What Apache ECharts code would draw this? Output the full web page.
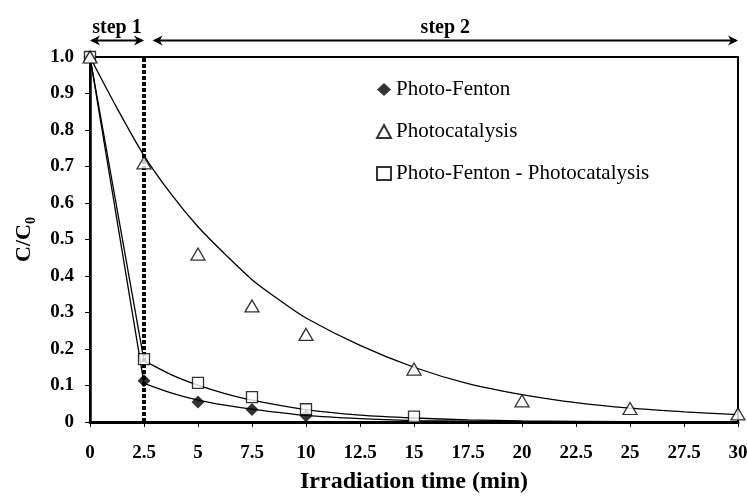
<!DOCTYPE html>
<html>
<head>
<meta charset="utf-8">
<script src="https://cdn.jsdelivr.net/npm/echarts@6/dist/echarts.min.js"></script>
<style>
html,body{margin:0;padding:0;background:#fff}
#main{width:747px;height:497px}
</style>
</head>
<body>
<div id="main"></div>
<script>
// measured points
var timePF = [0, 2.5, 5, 7.5, 10];
var valPF = [1.0, 0.113, 0.055, 0.034, 0.017];
var timePC = [0, 2.5, 5, 7.5, 10, 15, 20, 25, 30];
var valPC = [1.0, 0.71, 0.46, 0.318, 0.24, 0.145, 0.058, 0.037, 0.022];
var timePFPC = [0, 2.5, 5, 7.5, 10, 15];
var valPFPC = [1.0, 0.172, 0.107, 0.068, 0.035, 0.015];

// fitted curves
var fitTimeStep1 = [0, 2.5];
var fitPFStep1 = [1.0, 0.106];
var fitPFPCStep1 = [1.0, 0.168];
var fitTimeStep2 = [2.5, 3.75, 5, 6.25, 7.5, 10, 12.5, 15, 17.5, 20, 25, 30];
var fitPFStep2 = [0.106, 0.08, 0.06, 0.046, 0.035, 0.018, 0.009, 0.004, 0.002, 0.001, 0, 0];
var fitPFPCStep2 = [0.168, 0.13, 0.101, 0.078, 0.06, 0.034, 0.019, 0.011, 0.006, 0.003, 0.001, 0];
var fitTimePC = [0, 1.25, 2.5, 3.75, 5, 6.25, 7.5, 8.75, 10, 12.5, 15, 17.5, 20, 22.5, 25, 27.5, 30];
var fitPC = [1.0, 0.86, 0.73, 0.625, 0.535, 0.46, 0.39, 0.335, 0.285, 0.21, 0.15, 0.105, 0.075, 0.053, 0.038, 0.028, 0.02];

// step annotation (in minutes)
var stepSplit = 2.5;
var step1Range = [0, 2.5];
var step2Range = [2.9, 30];
var stepLabels = ['step 1', 'step 2'];

var names = ['Photo-Fenton', 'Photocatalysis', 'Photo-Fenton - Photocatalysis'];

function pairs(xs, ys){
    return xs.map(function(x, i){ return [x, ys[i]]; });
}

var serif = 'Liberation Serif';
var chart = echarts.init(document.getElementById('main'));

var fitStyle = {color:'#000', width:1.3};
function fitLine(data, smooth){
    return {
        type:'line', data:data, showSymbol:false, symbol:'none',
        smooth:smooth ? 0.3 : false,
        lineStyle:fitStyle, itemStyle:{color:'#000'}, z:2, silent:true
    };
}

var series = [
    fitLine(pairs(fitTimeStep1, fitPFStep1), false),
    fitLine(pairs(fitTimeStep1, fitPFPCStep1), false),
    fitLine(pairs(fitTimeStep2, fitPFStep2), true),
    fitLine(pairs(fitTimeStep2, fitPFPCStep2), true),
    fitLine(pairs(fitTimePC, fitPC), true),
    {
        type:'line', data:[], z:1, silent:true,
        markLine:{
            silent:true, symbol:['none','none'], label:{show:false},
            lineStyle:{color:'#000', width:4, type:[4,2]},
            data:[{xAxis:stepSplit}]
        }
    },
    {
        name:names[0], type:'scatter', symbol:'diamond', symbolSize:[13,13],
        data:pairs(timePF, valPF), itemStyle:{color:'#000'}, z:4
    },
    {
        name:names[2], type:'scatter', symbol:'rect', symbolSize:11,
        data:pairs(timePFPC, valPFPC),
        itemStyle:{color:'#fff', borderColor:'#000', borderWidth:1.3}, z:5
    },
    {
        name:names[1], type:'scatter', symbol:'triangle', symbolSize:[14,12],
        data:pairs(timePC, valPC),
        itemStyle:{color:'#fff', borderColor:'#000', borderWidth:1.3}, z:6
    }
];

chart.setOption({
    animation:false,
    backgroundColor:'#fff',
    grid:{
        left:90, right:9, top:57, bottom:75, containLabel:false, outerBoundsMode:'none',
        show:true, borderColor:'#000', borderWidth:2
    },
    legend:{
        orient:'vertical', left:371, top:74, itemWidth:14, itemHeight:13, itemGap:21,
        textStyle:{fontFamily:serif, fontSize:21, color:'#000'},
        data:names
    },
    xAxis:{
        type:'value', min:0, max:30, interval:2.5,
        name:'Irradiation time (min)', nameLocation:'middle', nameGap:48,
        nameTextStyle:{fontFamily:serif, fontWeight:'bold', fontSize:24, color:'#000'},
        axisLine:{lineStyle:{color:'#000', width:3}},
        axisTick:{length:5, lineStyle:{color:'#000', width:1}},
        axisLabel:{margin:22, fontFamily:serif, fontWeight:'bold', fontSize:19, color:'#000'},
        splitLine:{show:false}
    },
    yAxis:{
        type:'value', min:0, max:1, interval:0.1,
        name:'{a|C/C}{b|0}', nameLocation:'middle', nameGap:52, nameRotate:90,
        nameTextStyle:{
            rich:{
                a:{fontFamily:serif, fontWeight:'bold', fontSize:22, color:'#000', lineHeight:28, verticalAlign:'middle'},
                b:{fontFamily:serif, fontWeight:'bold', fontSize:14, color:'#000', lineHeight:28, verticalAlign:'bottom'}
            }
        },
        axisLine:{lineStyle:{color:'#000', width:2.5}},
        axisTick:{length:5, lineStyle:{color:'#000', width:1}},
        axisLabel:{
            margin:16, fontFamily:serif, fontWeight:'bold', fontSize:19, color:'#000',
            formatter:function(v){ return v === 0 ? '0' : v.toFixed(1); }
        },
        splitLine:{show:false}
    },
    series:series
});

// step arrows above the plot, placed with the chart's own scales
function px(x, y){ return chart.convertToPixel({gridIndex:0}, [x, y]); }
function arrow(x1, x2, y){
    var h = 10, w = 5, n = 7;
    return [
        {type:'line', shape:{x1:x1+2, y1:y, x2:x2-2, y2:y}, style:{stroke:'#000', lineWidth:2}},
        {type:'polygon', shape:{points:[[x1,y],[x1+h,y-w],[x1+n,y],[x1+h,y+w]]}, style:{fill:'#000'}},
        {type:'polygon', shape:{points:[[x2,y],[x2-h,y-w],[x2-n,y],[x2-h,y+w]]}, style:{fill:'#000'}}
    ];
}
var yArrow = px(0, 1.045)[1];
var yLabel = px(0, 1.08)[1];
var g = [];
[step1Range, step2Range].forEach(function(r, i){
    var a = px(r[0], 1)[0], b = px(r[1], 1)[0];
    g = g.concat(arrow(a, b, yArrow));
    g.push({
        type:'text', x:(a + b) / 2, y:yLabel,
        style:{text:stepLabels[i], fontFamily:serif, fontWeight:'bold', fontSize:20,
            fill:'#000', align:'center', verticalAlign:'middle'}
    });
});
chart.setOption({graphic:g});
</script>
</body>
</html>
